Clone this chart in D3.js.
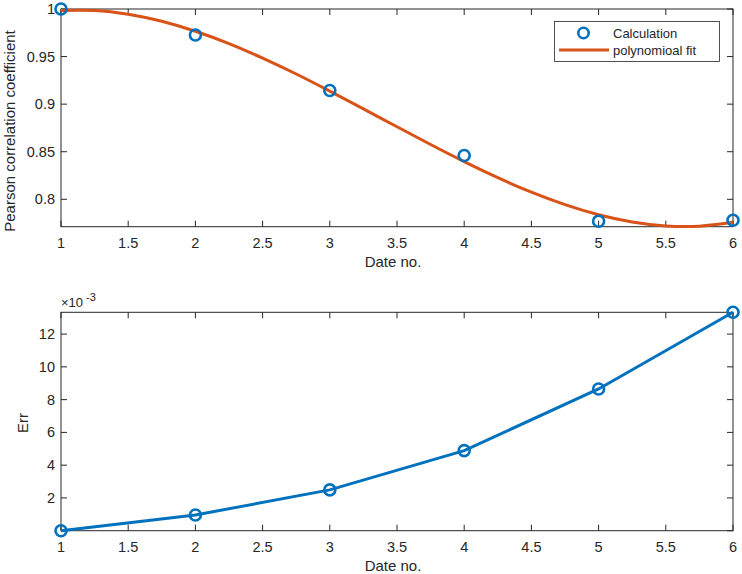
<!DOCTYPE html>
<html><head><meta charset="utf-8">
<script src="https://cdn.jsdelivr.net/npm/d3@7"></script>
<style>
body{margin:0;background:#fff;}
text{font-family:"Liberation Sans",Arial,Helvetica,sans-serif;fill:#262626;}
</style></head>
<body><svg id="c" width="742" height="574"></svg>
<script>
// data
const dates = [1, 2, 3, 4, 5, 6];
const pearson = [1.000, 0.9727, 0.9144, 0.846, 0.777, 0.778];
const fitX = [1, 1.25, 1.5, 1.75, 2, 2.25, 2.5, 2.75, 3, 3.25, 3.5, 3.75, 4, 4.25, 4.5, 4.75, 5, 5.25, 5.5, 5.75, 6];
const fitY = [0.9985, 0.9985, 0.9945, 0.9871, 0.9766, 0.9636, 0.9484, 0.9317, 0.9137, 0.8951, 0.8762, 0.8576, 0.8396, 0.8227, 0.8075, 0.7944, 0.7838, 0.7762, 0.7720, 0.7718, 0.7759];
const err = [0, 0.00096, 0.00249, 0.00489, 0.00865, 0.01333];
const xTicks = [1, 1.5, 2, 2.5, 3, 3.5, 4, 4.5, 5, 5.5, 6];
const topYTicks = [0.8, 0.85, 0.9, 0.95, 1];
const botYTicks = [0, 0.002, 0.004, 0.006, 0.008, 0.010, 0.012];
const legendLabels = ["Calculation", "polynomioal fit"];

const blue = "#0072BD", orange = "#D95319", axc = "#262626";
const svg = d3.select("#c");
const L = 61, R = 733;

function panel(top, bottom, yDomain, yTicks, yFmt) {
  const x = d3.scaleLinear().domain([1, 6]).range([L, R]);
  const y = d3.scaleLinear().domain(yDomain).range([bottom, top]);
  const g = svg.append("g");
  const tl = 6;
  xTicks.forEach(v => {
    g.append("line").attr("x1", x(v)).attr("x2", x(v)).attr("y1", bottom).attr("y2", bottom - tl).attr("stroke", axc);
    g.append("line").attr("x1", x(v)).attr("x2", x(v)).attr("y1", top).attr("y2", top + tl).attr("stroke", axc);
    g.append("text").attr("x", x(v)).attr("y", bottom + 21).attr("text-anchor", "middle").attr("font-size", 14.5).text(d3.format("")(v));
  });
  yTicks.forEach(v => {
    g.append("line").attr("x1", L).attr("x2", L + tl).attr("y1", y(v)).attr("y2", y(v)).attr("stroke", axc);
    g.append("line").attr("x1", R).attr("x2", R - tl).attr("y1", y(v)).attr("y2", y(v)).attr("stroke", axc);
    const s = yFmt(v);
    if (s !== "") g.append("text").attr("x", L - 6).attr("y", y(v) + 5).attr("text-anchor", "end").attr("font-size", 14.5).text(s);
  });
  g.append("rect").attr("x", L).attr("y", top).attr("width", R - L).attr("height", bottom - top)
    .attr("fill", "none").attr("stroke", axc).attr("stroke-width", 1);
  g.append("text").attr("x", 393).attr("y", bottom + 40).attr("text-anchor", "middle").attr("font-size", 15).text("Date no.");
  return {x, y, g};
}

// top panel
const p1 = panel(9, 226.7, [0.7712, 1], topYTicks, v => d3.format("")(+v.toFixed(2)));
p1.g.append("path").datum(fitX.map((d, i) => [d, fitY[i]]))
  .attr("d", d3.line().x(d => p1.x(d[0])).y(d => p1.y(d[1])).curve(d3.curveNatural))
  .attr("fill", "none").attr("stroke", orange).attr("stroke-width", 3);
p1.g.selectAll("circle.p").data(dates).join("circle")
  .attr("cx", d => p1.x(d)).attr("cy", (d, i) => p1.y(pearson[i])).attr("r", 5.5)
  .attr("fill", "none").attr("stroke", blue).attr("stroke-width", 2.6);
svg.append("text").attr("transform", "translate(15,131) rotate(-90)").attr("text-anchor", "middle")
  .attr("font-size", 15).text("Pearson correlation coefficient");

// legend
const lg = svg.append("g");
lg.append("rect").attr("x", 554.5).attr("y", 21.5).attr("width", 165).attr("height", 40)
  .attr("fill", "#fff").attr("stroke", axc).attr("stroke-width", 0.8);
lg.append("circle").attr("cx", 583.5).attr("cy", 33).attr("r", 5.2).attr("fill", "none").attr("stroke", blue).attr("stroke-width", 2.6);
lg.append("line").attr("x1", 559).attr("x2", 609).attr("y1", 50).attr("y2", 50).attr("stroke", orange).attr("stroke-width", 3);
legendLabels.forEach((t, i) => lg.append("text").attr("x", 613).attr("y", 38 + i * 17).attr("font-size", 13).text(t));

// bottom panel
const p2 = panel(312.3, 530.7, [0, 0.01333], botYTicks, v => v === 0 ? "" : d3.format("")(Math.round(v * 1000)));
p2.g.append("path").datum(dates.map((d, i) => [d, err[i]]))
  .attr("d", d3.line().x(d => p2.x(d[0])).y(d => p2.y(d[1])))
  .attr("fill", "none").attr("stroke", blue).attr("stroke-width", 3);
p2.g.selectAll("circle.e").data(dates).join("circle")
  .attr("cx", d => p2.x(d)).attr("cy", (d, i) => p2.y(err[i])).attr("r", 5.5)
  .attr("fill", "none").attr("stroke", blue).attr("stroke-width", 2.6);
svg.append("text").attr("transform", "translate(28,423) rotate(-90)").attr("text-anchor", "middle")
  .attr("font-size", 15).text("Err");
const ex = svg.append("text").attr("x", 61).attr("y", 307).attr("font-size", 13);
ex.append("tspan").text("×10");
ex.append("tspan").attr("dy", -6).attr("font-size", 11).text(" -3");
</script></body></html>
